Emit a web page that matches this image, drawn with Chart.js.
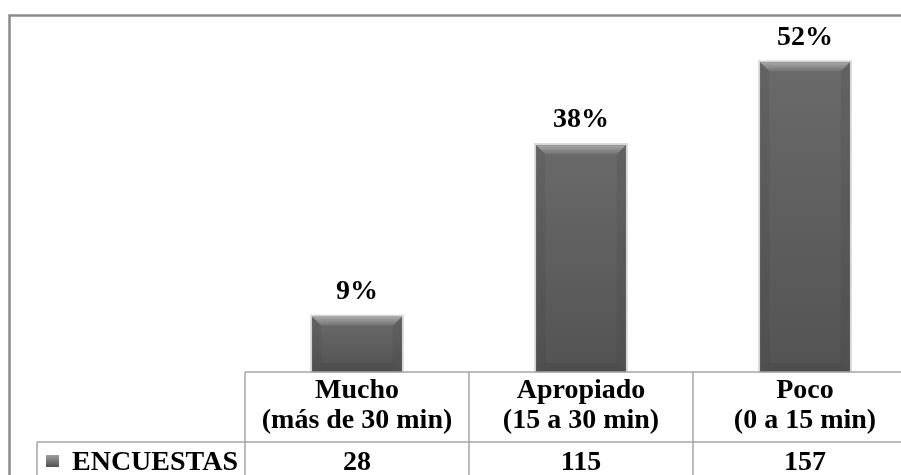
<!DOCTYPE html>
<html>
<head>
<meta charset="utf-8">
<script src="https://cdn.jsdelivr.net/npm/chart.js@4/dist/chart.umd.min.js"></script>
<style>
  html, body { margin: 0; padding: 0; background: #fff; overflow: hidden; }
  #wrap { position: relative; width: 901px; height: 475px; overflow: hidden; }
  canvas { position: absolute; left: 0; top: 0; }
</style>
</head>
<body>
<div id="wrap"><canvas id="chart" width="930" height="475"></canvas></div>
<script>
const categoriesTop = ['Mucho', 'Apropiado', 'Poco'];
const categoriesBottom = ['(más de 30 min)', '(15 a 30 min)', '(0 a 15 min)'];
const seriesName = 'ENCUESTAS';
const encuestas = [28, 115, 157];
const percentLabels = ['9%', '38%', '52%'];

const serif = '"Liberation Serif", "Times New Roman", serif';

// bevel + gradient on top of the flat bars, then labels above them
const bevelBars = {
    id: 'bevelBars',
    afterDatasetsDraw(chart) {
        const ctx = chart.ctx;
        const meta = chart.getDatasetMeta(0);
        meta.data.forEach((bar, i) => {
            const x0 = bar.x - bar.width / 2;
            const x1 = bar.x + bar.width / 2;
            const y0 = bar.y;
            const y1 = bar.base;
            const b = 9;
            ctx.save();
            // soft outline
            ctx.strokeStyle = 'rgba(150,150,150,0.4)';
            ctx.lineWidth = 2;
            ctx.strokeRect(x0 - 1, y0 - 1, x1 - x0 + 2, y1 - y0 + 1);
            // body
            let g = ctx.createLinearGradient(0, y0, 0, y1);
            g.addColorStop(0, '#6a6a6a');
            g.addColorStop(1, '#535353');
            ctx.fillStyle = g;
            ctx.fillRect(x0, y0, x1 - x0, y1 - y0);
            // top bevel
            g = ctx.createLinearGradient(0, y0, 0, y0 + b);
            g.addColorStop(0, '#a8a8a8');
            g.addColorStop(1, '#727272');
            ctx.fillStyle = g;
            ctx.beginPath();
            ctx.moveTo(x0, y0); ctx.lineTo(x1, y0);
            ctx.lineTo(x1 - b, y0 + b); ctx.lineTo(x0 + b, y0 + b);
            ctx.closePath(); ctx.fill();
            // side bevels
            ctx.fillStyle = 'rgba(60,60,60,0.15)';
            ctx.beginPath();
            ctx.moveTo(x0, y0); ctx.lineTo(x0 + b, y0 + b);
            ctx.lineTo(x0 + b, y1 - b); ctx.lineTo(x0, y1);
            ctx.closePath(); ctx.fill();
            ctx.beginPath();
            ctx.moveTo(x1, y0); ctx.lineTo(x1 - b, y0 + b);
            ctx.lineTo(x1 - b, y1 - b); ctx.lineTo(x1, y1);
            ctx.closePath(); ctx.fill();
            // bottom bevel
            ctx.fillStyle = 'rgba(40,40,40,0.12)';
            ctx.beginPath();
            ctx.moveTo(x0, y1); ctx.lineTo(x1, y1);
            ctx.lineTo(x1 - b, y1 - b); ctx.lineTo(x0 + b, y1 - b);
            ctx.closePath(); ctx.fill();
            // percentage label
            ctx.fillStyle = '#000';
            ctx.font = 'bold 28px ' + serif;
            ctx.textAlign = 'center';
            ctx.textBaseline = 'middle';
            ctx.fillText(percentLabels[i], bar.x, y0 - 25);
            ctx.restore();
        });
    }
};

// data table under the plot and the outer frame
const dataTable = {
    id: 'dataTable',
    afterDraw(chart) {
        const ctx = chart.ctx;
        const xs = chart.scales.x;
        const area = chart.chartArea;
        const top = area.bottom;
        const rowY = 442;
        const step = xs.getPixelForValue(1) - xs.getPixelForValue(0);
        const left = xs.getPixelForValue(0) - step / 2;
        const right = xs.getPixelForValue(categoriesTop.length - 1) + step / 2;
        ctx.save();
        ctx.strokeStyle = '#a6a6a6';
        ctx.lineWidth = 1.5;
        ctx.beginPath();
        ctx.moveTo(left, top); ctx.lineTo(right, top);
        ctx.moveTo(37, rowY); ctx.lineTo(right, rowY);
        ctx.moveTo(37, rowY); ctx.lineTo(37, 480);
        for (let i = 0; i <= categoriesTop.length; i++) {
            const x = left + i * step;
            ctx.moveTo(x, top); ctx.lineTo(x, 480);
        }
        ctx.stroke();

        ctx.fillStyle = '#000';
        ctx.textAlign = 'center';
        ctx.textBaseline = 'middle';
        ctx.font = 'bold 28px ' + serif;
        categoriesTop.forEach((c, i) => {
            const x = xs.getPixelForValue(i);
            ctx.fillText(c, x, 391);
            ctx.fillText(categoriesBottom[i], x, 421);
            ctx.fillText(String(encuestas[i]), x, 463);
        });

        // legend key + series name
        const kg = ctx.createLinearGradient(0, 455, 0, 467);
        kg.addColorStop(0, '#a0a0a0');
        kg.addColorStop(1, '#505050');
        ctx.fillStyle = kg;
        ctx.fillRect(46, 455, 13, 12);
        ctx.fillStyle = '#000';
        ctx.textAlign = 'left';
        ctx.fillText(seriesName, 72, 463);

        // outer frame
        ctx.strokeStyle = '#8c8c8c';
        ctx.lineWidth = 2.5;
        ctx.beginPath();
        ctx.moveTo(9.5, 480); ctx.lineTo(9.5, 15.5); ctx.lineTo(940, 15.5);
        ctx.stroke();
        ctx.restore();
    }
};

new Chart(document.getElementById('chart'), {
    type: 'bar',
    data: {
        labels: categoriesTop,
        datasets: [{
            label: seriesName,
            data: encuestas,
            backgroundColor: '#606060',
            borderWidth: 0,
            barPercentage: 0.4,
            categoryPercentage: 1
        }]
    },
    options: {
        responsive: false,
        animation: false,
        devicePixelRatio: 1,
        layout: { padding: { left: 245, right: 13, top: 17, bottom: 103 } },
        plugins: { legend: { display: false }, tooltip: { enabled: false } },
        scales: {
            x: { display: false },
            y: { display: false, min: 0, max: 180 }
        }
    },
    plugins: [bevelBars, dataTable]
});
</script>
</body>
</html>
